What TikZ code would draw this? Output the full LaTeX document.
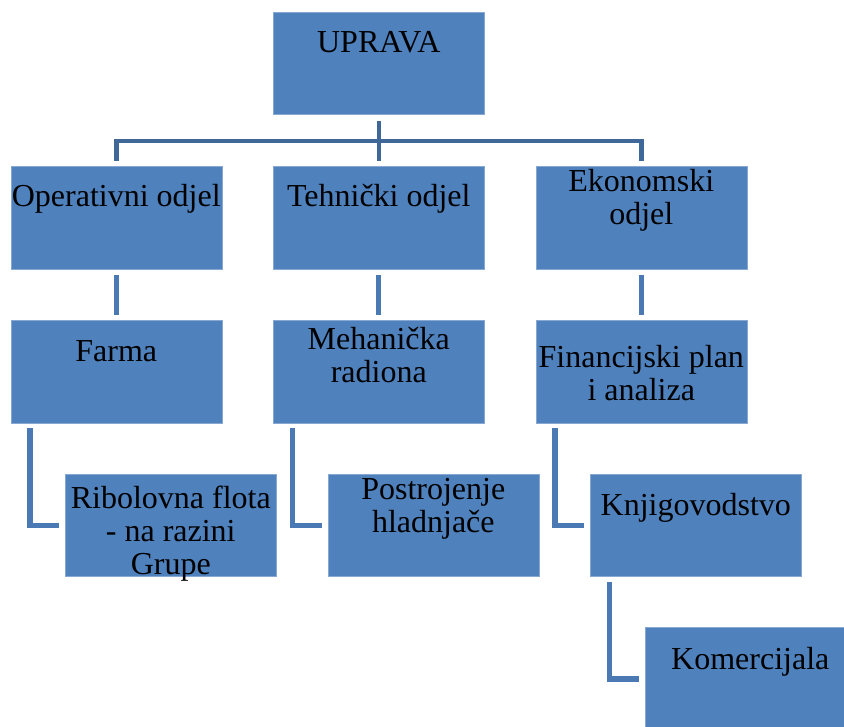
\documentclass[tikz,border=0pt]{standalone}
\usepackage{fontspec}
\setmainfont{Liberation Serif}
\usetikzlibrary{positioning}
\definecolor{boxblue}{HTML}{4F81BD}
\definecolor{boxedge}{HTML}{86A8D2}
\definecolor{linkblue}{HTML}{3F6899}
\definecolor{elbowblue}{HTML}{4A79B3}
\newcommand{\boxlift}{42pt}
\newcommand{\boxtail}{\par\kern\boxlift}

\begin{document}
\begin{tikzpicture}[
  x=1pt, y=1pt,
  node distance=51.5pt,
  box/.style={draw=boxedge, line width=0.6pt, fill=boxblue, outer sep=0pt,
    minimum width=211pt, minimum height=102.5pt, text width=221pt,
    inner xsep=-5pt, inner ysep=0pt, align=flush center,
    font=\fontsize{32pt}{33pt}\selectfont, execute at end node=\boxtail},
  lift/.code={\def\boxlift{#1}},
  tree/.style={line width=4.5pt, linkblue},
  link/.style={line width=5pt, elbowblue},
  elbow/.style={line width=5.5pt, elbowblue}
]
\useasboundingbox (0,0) rectangle (844,-727);

\node[box] (uprava) at (378.8,-63.5) {UPRAVA};
\node[box, lift=38pt, below=52pt of uprava] (tehnicki) {Tehnički odjel};
\node[box, lift=38pt, left=of tehnicki] (operativni) {Operativni odjel};
\node[box, lift=36pt, right=of tehnicki] (ekonomski) {Ekonomski\\odjel};

\node[box, below=of operativni] (farma) {Farma};
\node[box, lift=34pt, below=of tehnicki] (radiona) {Mehanička\\radiona};
\node[box, lift=-2pt, below=of ekonomski] (financije) {Financijski plan\\i analiza};

\node[box, lift=-16pt, below=51pt of farma, xshift=54.5pt] (flota) {Ribolovna flota\\- na razini\\Grupe};
\node[box, lift=34pt, below=51pt of radiona, xshift=54.5pt] (hladnjaca) {Postrojenje\\hladnjače};
\node[box, lift=36pt, below=51pt of financije, xshift=54.5pt] (knjigovodstvo) {Knjigovodstvo};
\node[box, lift=34pt, below=51pt of knjigovodstvo, xshift=54.5pt] (komercijala) {Komercijala};

% top of the tree
\draw[tree] ([yshift=-6pt]uprava.south) -- ([yshift=6pt]tehnicki.north);
\draw[tree] ([yshift=6pt]operativni.north) -- ++(0,19.5) -| ([yshift=6pt]ekonomski.north);

\draw[link] ([yshift=-6pt]operativni.south) -- ([yshift=6pt]farma.north);
\draw[link] ([yshift=-6pt]tehnicki.south) -- ([yshift=6pt]radiona.north);
\draw[link] ([yshift=-6pt]ekonomski.south) -- ([yshift=6pt]financije.north);

% side branches
\draw[elbow] ([shift={(19,-5)}]farma.south west) |- ([xshift=-6pt]flota.west);
\draw[elbow] ([shift={(19,-5)}]radiona.south west) |- ([xshift=-6pt]hladnjaca.west);
\draw[elbow] ([shift={(19,-5)}]financije.south west) |- ([xshift=-6pt]knjigovodstvo.west);
\draw[elbow] ([shift={(19,-5)}]knjigovodstvo.south west) |- ([xshift=-6pt]komercijala.west);

\end{tikzpicture}
\end{document}
